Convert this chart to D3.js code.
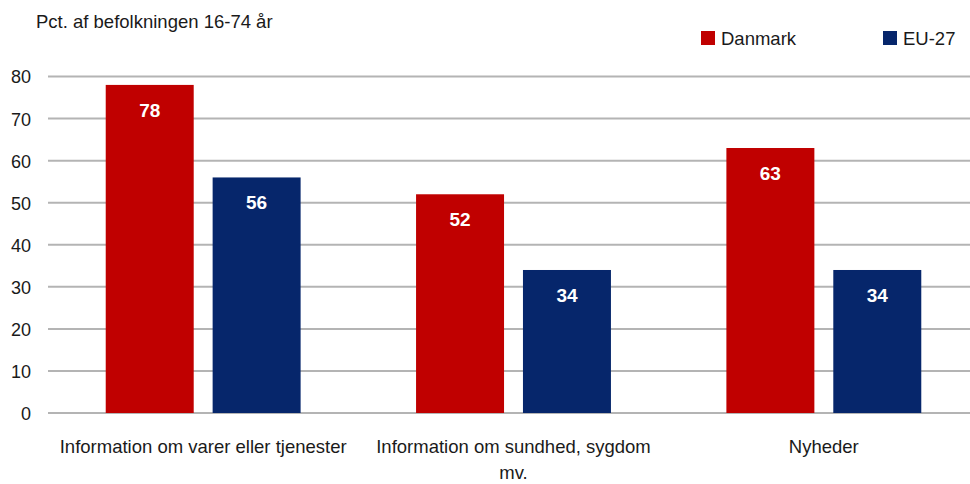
<!DOCTYPE html>
<html><head><meta charset="utf-8">
<script src="https://cdn.jsdelivr.net/npm/d3@7"></script>
<style>body{margin:0;background:#fff}svg{display:block}text{font-family:"Liberation Sans Narrow","Liberation Sans",sans-serif;fill:#1a1a1a}</style>
</head><body><svg id="c" width="970" height="484"></svg>
<script>
const categories = ["Information om varer eller tjenester", "Information om sundhed, sygdom mv.", "Nyheder"];
const seriesNames = ["Danmark", "EU-27"];
const danmark = [78, 52, 63];
const eu27 = [56, 34, 34];
const yTicks = [0, 10, 20, 30, 40, 50, 60, 70, 80];
const colors = ["#c00000", "#06266b"];
const yTitle = "Pct. af befolkningen 16-74 år";

const svg = d3.select("#c");
const m = {l: 48, r: -9, t: 76.5, b: 71};
const W = 970, H = 484;
const x0 = d3.scaleBand().domain(categories).range([m.l, W - m.r]).paddingInner(0.372).paddingOuter(0.186);
const x1 = d3.scaleBand().domain(seriesNames).range([0, x0.bandwidth()]).paddingInner(0.177);
const y = d3.scaleLinear().domain([0, 80]).range([H - m.b, m.t]);

svg.append("g").selectAll("line").data(yTicks).join("line")
  .attr("x1", m.l).attr("x2", 970).attr("y1", d => y(d)).attr("y2", d => y(d))
  .attr("stroke", "#b4b4b4").attr("stroke-width", 2);

const yAxis = d3.axisLeft(y).tickValues(yTicks).tickSize(0).tickPadding(0);
const ga = svg.append("g").attr("transform", "translate(31,0)").call(yAxis);
ga.select(".domain").remove();
ga.selectAll("text").style("font-size", "18px").attr("fill", "#1a1a1a").attr("dy", "0.36em");

const series = [danmark, eu27];
categories.forEach((c, i) => {
  seriesNames.forEach((s, j) => {
    const v = series[j][i];
    const bx = x0(c) + x1(s);
    svg.append("rect").attr("x", bx).attr("y", y(v)).attr("width", x1.bandwidth()).attr("height", y(0) - y(v)).attr("fill", colors[j]);
    svg.append("text").attr("x", bx + x1.bandwidth() / 2).attr("y", y(v) + 32)
      .attr("text-anchor", "middle").style("font-size", "19px").style("font-weight", "bold").style("fill", "#fff").text(v);
  });
});

const xAxis = d3.axisBottom(x0).tickSize(0).tickPadding(0);
const gx = svg.append("g").attr("transform", `translate(0,${y(0)})`).call(xAxis);
gx.select(".domain").remove();
gx.selectAll("text").remove();
const wraps = {"Information om sundhed, sygdom mv.": ["Information om sundhed, sygdom", "mv."]};
categories.forEach(c => {
  const lines = wraps[c] || [c];
  const t = svg.append("text").attr("x", x0(c) + x0.bandwidth() / 2).attr("y", 453).attr("text-anchor", "middle").style("font-size", "18.5px");
  lines.forEach((l, k) => t.append("tspan").attr("x", x0(c) + x0.bandwidth() / 2).attr("dy", k ? 26 : 0).text(l));
});

svg.append("text").attr("x", 36).attr("y", 28).style("font-size", "18.5px").text(yTitle);

const legX = [701, 883];
seriesNames.forEach((s, j) => {
  svg.append("rect").attr("x", legX[j]).attr("y", 31).attr("width", 14).attr("height", 14).attr("fill", colors[j]);
  svg.append("text").attr("x", legX[j] + 20).attr("y", 44.5).style("font-size", "18.5px").text(s);
});
</script></body></html>
